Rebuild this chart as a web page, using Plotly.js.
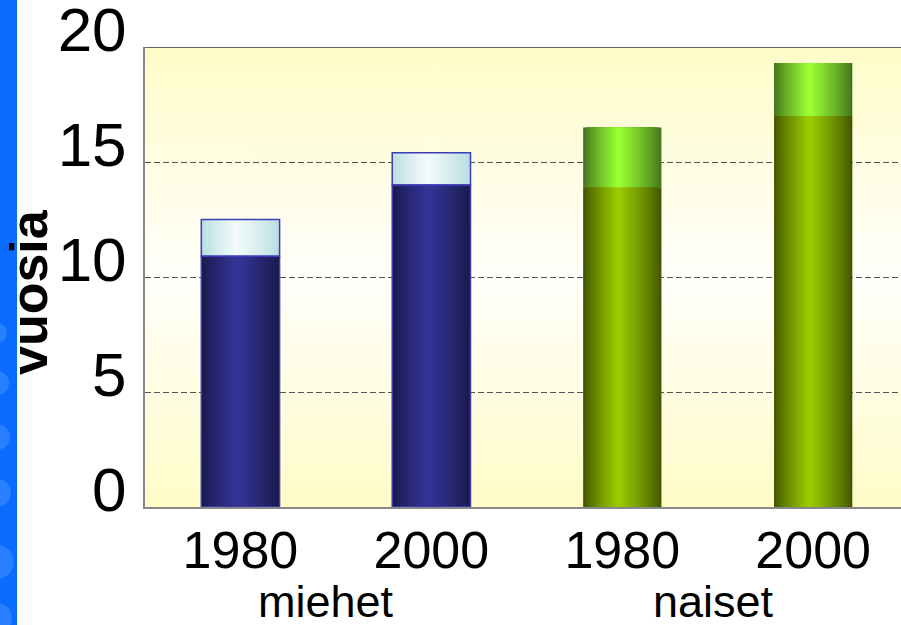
<!DOCTYPE html>
<html>
<head>
<meta charset="utf-8">
<script src="https://cdn.plot.ly/plotly-3.0.1.min.js"></script>
<style>html,body{margin:0;padding:0;background:#fff;}#chart{width:901px;height:625px;}</style>
</head>
<body>
<div id="chart"></div>
<script>
// ---- data ----
const groups = ['miehet', 'miehet', 'naiset', 'naiset'];
const years = ['1980', '2000', '1980', '2000'];
const lowerValues = [10.9, 14.0, 13.9, 17.0];
const upperValues = [12.5, 15.4, 16.5, 19.3];
const groupLabels = ['miehet', 'naiset'];
const yTickValues = [0, 5, 10, 15, 20];
const yTitle = 'vuosia';

// ---- styles ----
const palette = {
  miehet: { lowEdge: [26, 26, 76], lowCenter: [52, 52, 152], upEdge: [184, 221, 226], upCenter: [242, 250, 250], outline: '#3C3CB4' },
  naiset: { lowEdge: [68, 86, 0], lowCenter: [153, 204, 0], upEdge: [70, 118, 30], upCenter: [153, 255, 51], outline: 'rgba(0,0,0,0)' }
};
const W = 0.41;
const N = 18;
const PEAK = 0.45;

const categories = groups.map((g, i) => g + ' ' + years[i]);
const upperHeights = upperValues.map((v, i) => v - lowerValues[i]);

function mix(a, b, t) {
  return 'rgb(' + a.map((c, j) => Math.round(c + (b[j] - c) * t)).join(',') + ')';
}

const traces = [];
for (let k = 0; k < N; k++) {
  const frac = k / N;
  const width = W * (1 - frac);
  const offset = -W / 2 + frac * W * PEAK;
  const t = Math.pow(k / (N - 1), 0.85);
  traces.push({
    type: 'bar', x: categories, y: lowerValues, base: groups.map(() => 0),
    width: categories.map(() => width), offset: categories.map(() => offset),
    marker: { color: groups.map(g => mix(palette[g].lowEdge, palette[g].lowCenter, t)), line: { width: 0 } },
    hoverinfo: 'skip', showlegend: false
  });
  traces.push({
    type: 'bar', x: categories, y: upperHeights, base: lowerValues,
    width: categories.map(() => width), offset: categories.map(() => offset),
    marker: { color: groups.map(g => mix(palette[g].upEdge, palette[g].upCenter, t)), line: { width: 0 } },
    hoverinfo: 'skip', showlegend: false
  });
}
// outlines
traces.push({
  type: 'bar', x: categories, y: lowerValues, base: groups.map(() => 0),
  width: categories.map(() => W), offset: categories.map(() => -W / 2),
  marker: { color: 'rgba(0,0,0,0)', line: { width: 1.5, color: groups.map(g => palette[g].outline) } },
  hoverinfo: 'skip', showlegend: false
});
traces.push({
  type: 'bar', x: categories, y: upperHeights, base: lowerValues,
  width: categories.map(() => W), offset: categories.map(() => -W / 2),
  marker: { color: 'rgba(0,0,0,0)', line: { width: 1.5, color: groups.map(g => palette[g].outline) } },
  hoverinfo: 'skip', showlegend: false
});

// background gradient
const cv = document.createElement('canvas');
cv.width = 4; cv.height = 460;
const ctx = cv.getContext('2d');
const gr = ctx.createLinearGradient(0, 0, 0, 460);
gr.addColorStop(0, '#FFFCC8');
gr.addColorStop(0.5, '#FFFFFB');
gr.addColorStop(1, '#FFFCC8');
ctx.fillStyle = gr; ctx.fillRect(0, 0, 4, 460);
const bgURL = cv.toDataURL();

// pixel helpers for decorations
const L = 145, R = 901, T = 47, B = 507;
const px = v => (v - L) / (R - L);
const py = v => (B - v) / (B - T);

const shapes = [
  { type: 'rect', xref: 'paper', yref: 'paper', x0: px(-5), x1: px(17), y0: py(630), y1: py(-5), fillcolor: '#0A6CFF', line: { width: 0 }, layer: 'below' }
];
[[333, 10], [383, 12], [437, 13], [493, 14], [562, 17], [618, 15]].forEach(([cy, r]) => {
  shapes.push({ type: 'circle', xref: 'paper', yref: 'paper', x0: px(-3 - r), x1: px(-3 + r), y0: py(cy + r), y1: py(cy - r), fillcolor: 'rgba(255,255,255,0.13)', line: { width: 0 }, layer: 'below' });
});
shapes.push({ type: 'line', xref: 'paper', yref: 'y', x0: 0, x1: 1, y0: 20, y1: 20, line: { color: '#333', width: 1.5 }, layer: 'above' });

const annotations = [
  { text: groupLabels[0], xref: 'x', yref: 'paper', x: 0.45, y: py(601), xanchor: 'center', yanchor: 'middle', showarrow: false, font: { family: 'Liberation Sans, Arial, sans-serif', size: 45, color: '#000' } },
  { text: groupLabels[1], xref: 'x', yref: 'paper', x: 2.48, y: py(601), xanchor: 'center', yanchor: 'middle', showarrow: false, font: { family: 'Liberation Sans, Arial, sans-serif', size: 45, color: '#000' } },
  { text: '<b>' + yTitle + '</b>', xref: 'paper', yref: 'paper', x: px(29), y: py(292), xanchor: 'center', yanchor: 'middle', textangle: -90, showarrow: false, font: { family: 'Liberation Sans, Arial, sans-serif', size: 52, color: '#000' } }
];

const layout = {
  width: 901, height: 625,
  margin: { l: 145, r: 0, t: 47, b: 118, pad: 0 },
  paper_bgcolor: '#fff', plot_bgcolor: 'rgba(0,0,0,0)',
  barmode: 'overlay',
  showlegend: false,
  font: { family: 'Liberation Sans, Arial, sans-serif', color: '#000' },
  xaxis: {
    type: 'category', range: [-0.5, 3.46], tickvals: categories, ticktext: years,
    showgrid: false, zeroline: false, showline: true, linecolor: '#888', linewidth: 2,
    ticks: '', tickfont: { size: 52, color: '#000' }, ticklabelstandoff: -3, fixedrange: true
  },
  yaxis: {
    range: [0, 20], tickvals: yTickValues, ticktext: yTickValues.map(String),
    showgrid: true, gridcolor: '#555', gridwidth: 1, griddash: '6px,3px',
    zeroline: false, showline: true, linecolor: '#888', linewidth: 2,
    ticks: '', tickfont: { size: 62, color: '#000' }, ticklabelstandoff: 4, ticklabelshift: -18,
    ticklabeloverflow: 'allow', fixedrange: true
  },
  images: [{ source: bgURL, xref: 'paper', yref: 'paper', x: 0, y: 1, sizex: 1, sizey: 1, sizing: 'stretch', xanchor: 'left', yanchor: 'top', layer: 'below' }],
  shapes: shapes,
  annotations: annotations
};

Plotly.newPlot('chart', traces, layout, { displayModeBar: false, staticPlot: true });
</script>
</body>
</html>
